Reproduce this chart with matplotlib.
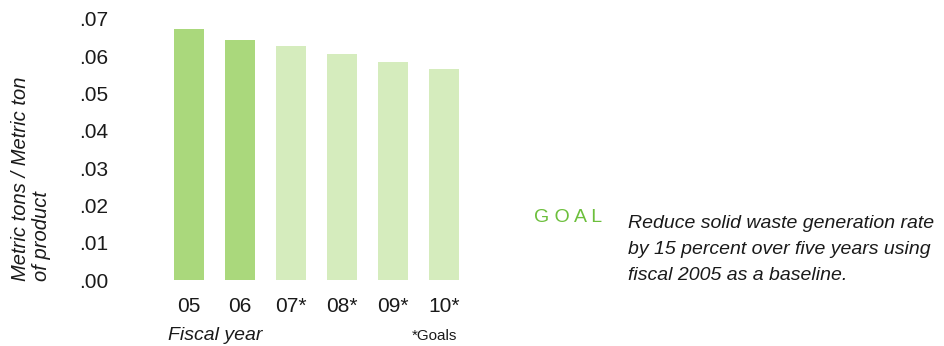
import matplotlib
matplotlib.use("Agg")
import matplotlib.pyplot as plt

plt.rcParams['font.family'] = ['Liberation Sans', 'DejaVu Sans']

# fiscal years and waste rate (metric tons / metric ton of product)
years = ['05', '06', '07*', '08*', '09*', '10*']
values = [0.0673, 0.0643, 0.0627, 0.0606, 0.0584, 0.0566]
is_goal = [False, False, True, True, True, True]
yticks = [0.00, 0.01, 0.02, 0.03, 0.04, 0.05, 0.06, 0.07]
ytick_labels = ['.00', '.01', '.02', '.03', '.04', '.05', '.06', '.07']

dark = '#aad87c'
light = '#d5ecbd'
txt = '#1a1a1a'

fig = plt.figure(figsize=(9.44, 3.46), dpi=100)
ax = fig.add_axes([163.5/944, 66/346, 306/944, 261/346])

colors = [light if g else dark for g in is_goal]
ax.bar(range(len(years)), values, width=0.59, color=colors)

ax.set_xlim(-0.5, len(years) - 0.5)
ax.set_ylim(0, 0.07)
ax.set_xticks(range(len(years)))
ax.set_xticklabels(years, fontsize=15, color=txt)
ax.set_yticks(yticks)
ax.set_yticklabels(ytick_labels, fontsize=15, color=txt, ha='left')
ax.tick_params(axis='y', length=0, pad=61)
ax.tick_params(axis='x', length=0, pad=12)
for s in ax.spines.values():
    s.set_visible(False)

fig.text(31/944, 1 - 281/346, 'Metric tons / Metric ton\nof product', rotation=90,
         ha='center', va='bottom', multialignment='left', fontsize=14.5,
         style='italic', color=txt, linespacing=1.1)

fig.text(168/944, 1 - 335/346, 'Fiscal year', fontsize=14, style='italic',
         color=txt, ha='left', va='center')
fig.text(412/944, 1 - 336/346, '*Goals', fontsize=11, color=txt,
         ha='left', va='center')

fig.text(534/944, 1 - 218/346, 'G O A L', fontsize=14, color='#6cbf3c',
         ha='left', va='center')
fig.text(628/944, 1 - 215/346,
         'Reduce solid waste generation rate\nby 15 percent over five years using\nfiscal 2005 as a baseline.',
         fontsize=14, style='italic', color=txt, ha='left', va='top',
         linespacing=1.68)

fig.savefig('out.png', dpi=100)
